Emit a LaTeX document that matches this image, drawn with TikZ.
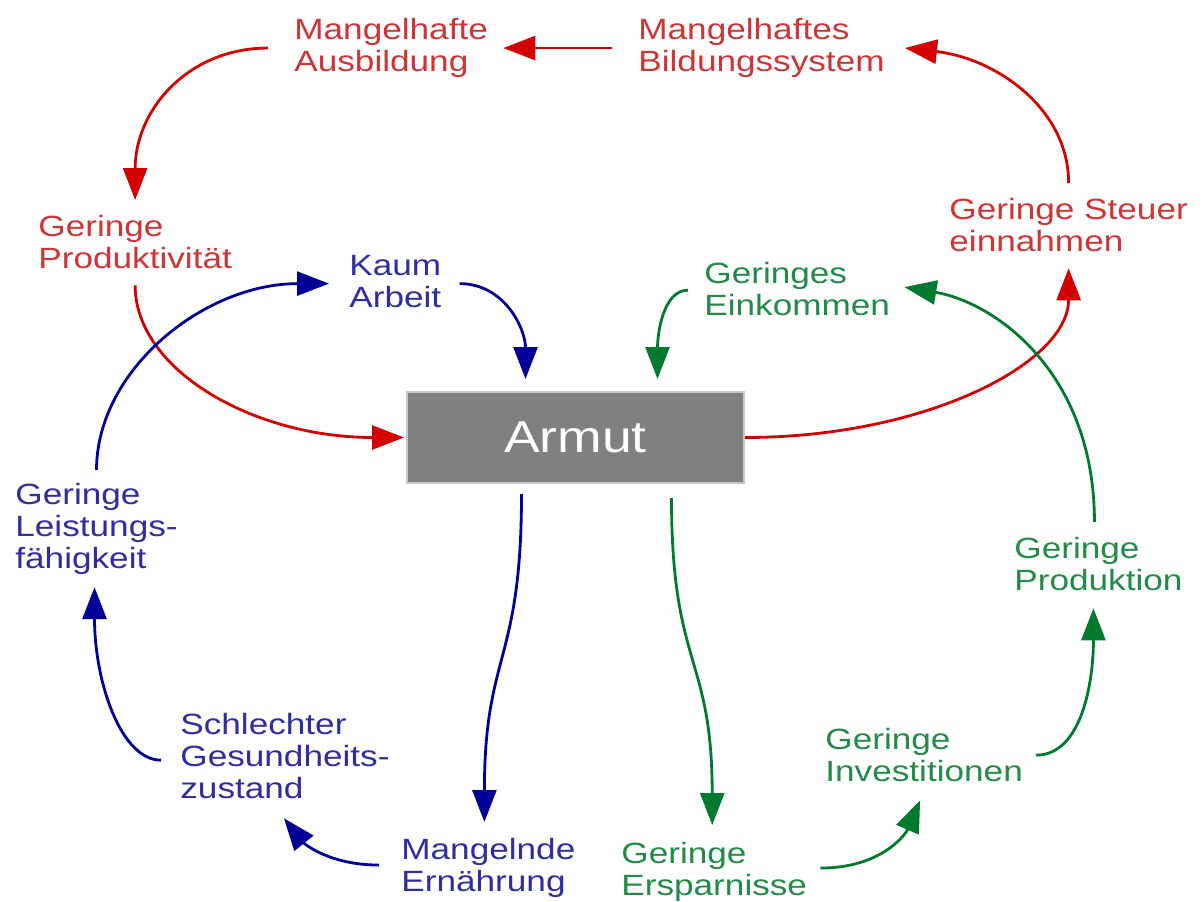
\documentclass[tikz,border=0pt]{standalone}
\usepackage{fontspec}
\setmainfont{Liberation Sans}[FakeStretch=1.2]
\usetikzlibrary{arrows.meta,calc}
\definecolor{Rot}{HTML}{D40000}
\definecolor{RotText}{HTML}{D03535}
\definecolor{Blau}{HTML}{000099}
\definecolor{BlauText}{HTML}{2E2EA0}
\definecolor{Gruen}{HTML}{007A2E}
\definecolor{GruenText}{HTML}{238A48}
\definecolor{Grau}{HTML}{808080}
\definecolor{Rand}{HTML}{C8C8C8}
\tikzset{
  cause/.style={
    anchor=north west, inner sep=0pt, align=left,
    font=\fontsize{14.65pt}{16pt}\selectfont
  },
  core/.style={
    fill=Grau, draw=Rand, line width=1pt, text=white, inner sep=0pt,
    minimum width=168.5pt, minimum height=45.5pt,
    font=\fontsize{22.3pt}{24pt}\selectfont
  },
  flow/.style={-{Triangle[length=16pt,width=12pt]}, line width=1.4pt},
  redflow/.style={flow, draw=Rot},
  blueflow/.style={flow, draw=Blau},
  greenflow/.style={flow, draw=Gruen}
}

\begin{document}
\begin{tikzpicture}[x=0.5pt,y=-0.5pt]
  \fill[white] (0,0) rectangle (1204,899);
  % center
  \node[core] (armut) at (575.5,437.5) {Armut};
  % red loop
  \node[cause,text=RotText] (ausb) at (294,18) {Mangelhafte\\Ausbildung};
  \node[cause,text=RotText] (bild) at (638,18) {Mangelhaftes\\Bildungssystem};
  \node[cause,text=RotText] (prod) at (38,215) {Geringe\\Produktivität};
  \node[cause,text=RotText] (steuer) at (949,198) {Geringe Steuer\\einnahmen};
  % blue loop
  \node[cause,text=BlauText] (kaum) at (349,255) {Kaum\\Arbeit};
  \node[cause,text=BlauText] (leist) at (15,483) {Geringe\\Leistungs-\\fähigkeit};
  \node[cause,text=BlauText] (gesund) at (180,713) {Schlechter\\Gesundheits-\\zustand};
  \node[cause,text=BlauText] (ernae) at (401,838) {Mangelnde\\Ernährung};
  % green loop
  \node[cause,text=GruenText] (eink) at (704,262) {Geringes\\Einkommen};
  \node[cause,text=GruenText] (spar) at (621,842) {Geringe\\Ersparnisse};
  \node[cause,text=GruenText] (invest) at (825,728) {Geringe\\Investitionen};
  \node[cause,text=GruenText] (produktion) at (1014,537) {Geringe\\Produktion};

  \draw[redflow] ($(bild.west)+(-26,0)$) -- ($(ausb.east)+(15,0)$);
  \draw[redflow] ($(ausb.west)+(-26,0)$) .. controls +(-80,0) and +(0,-90) .. ($(prod.north)+(0,-15)$);
  \draw[redflow] ($(prod.south)+(0,16)$) .. controls +(0,85) and +(-150,0) .. ($(armut.west)+(-2,0)$);
  \draw[redflow] (armut.east) .. controls +(180,0) and +(0,95) .. ($(steuer.south)+(0,16)$);
  \draw[redflow] ($(steuer.north)+(0,-15)$) .. controls +(0,-75) and +(90,10) .. ($(bild.east)+(20,0)$);

  \draw[blueflow] ($(leist.north)+(0,-13)$) .. controls +(0,-100) and +(-125,0) .. ($(kaum.west)+(-20,2)$);
  \draw[blueflow] ($(kaum.east)+(18,2)$) .. controls +(45,0) and +(0,-50) .. ($(armut.north)+(-50,-12)$);
  \draw[blueflow] ($(armut.south)+(-54,10)$) .. controls +(0,170) and +(0,-170) .. ($(ernae.north)+(-4,-16)$);
  \draw[blueflow] ($(ernae.west)+(-22,-3)$) .. controls +(-50,0) and +(20,25) .. ($(gesund.south)+(-1,19)$);
  \draw[blueflow] ($(gesund.west)+(-19,4)$) .. controls +(-40,0) and +(0,95) .. ($(leist.south)+(-2,12)$);

  \draw[greenflow] ($(eink.west)+(-16,1)$) .. controls +(-25,0) and +(0,-45) .. ($(armut.north)+(82,-12)$);
  \draw[greenflow] ($(armut.south)+(96,14)$) .. controls +(0,170) and +(0,-170) .. ($(spar.north)+(-2,-17)$);
  \draw[greenflow] ($(spar.east)+(13,-4)$) .. controls +(60,0) and +(-15,35) .. ($(invest.south)+(-4,18)$);
  \draw[greenflow] ($(invest.east)+(13,0)$) .. controls +(45,0) and +(0,75) .. ($(produktion.south)+(-5,17)$);
  \draw[greenflow] ($(produktion.north)+(-4,-15)$) .. controls +(0,-150) and +(90,15) .. ($(eink.east)+(14,-2)$);
\end{tikzpicture}
\end{document}
